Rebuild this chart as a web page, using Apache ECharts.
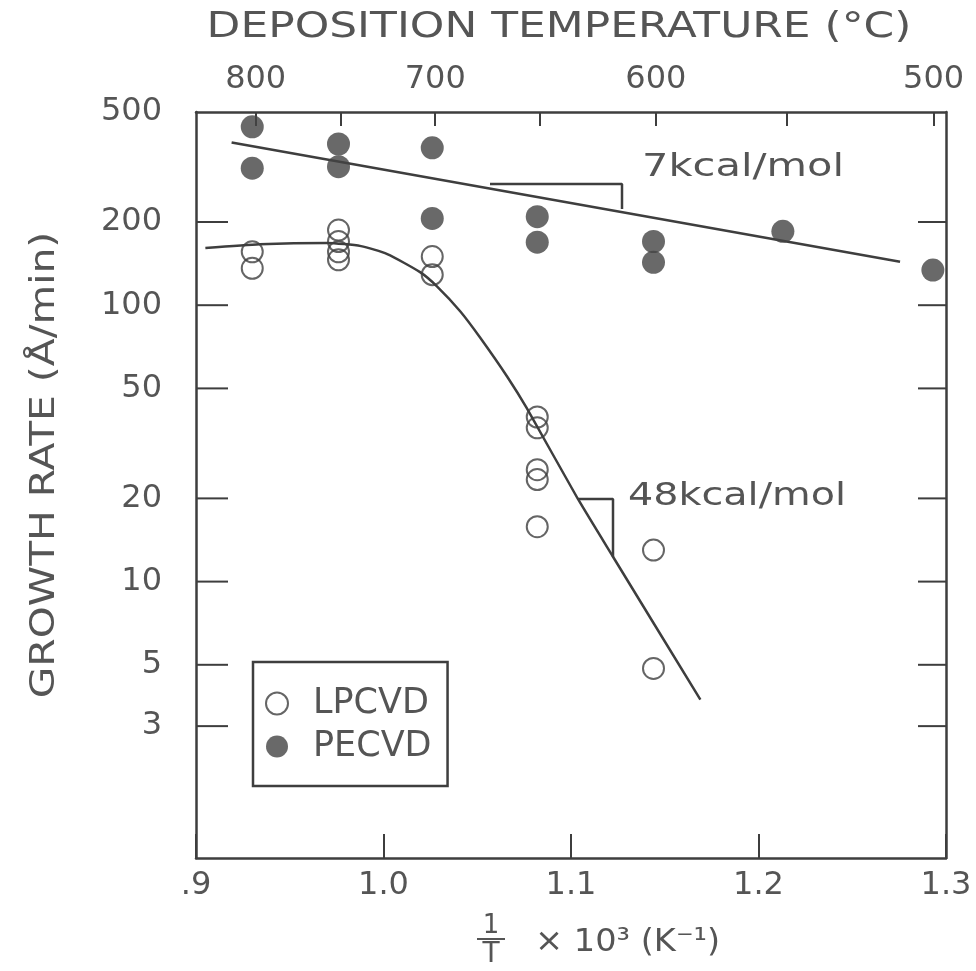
<!DOCTYPE html>
<html>
<head>
<meta charset="utf-8">
<script src="https://cdn.jsdelivr.net/npm/echarts@6/dist/echarts.min.js"></script>
<style>
  html, body { margin: 0; padding: 0; background: #ffffff; }
  #chart { width: 976px; height: 971px; }
</style>
</head>
<body>
<div id="chart"></div>
<script>
// Reciprocal temperature (1000/T, K^-1) and growth rate (Å/min)
const lpcvdX = [0.930, 0.930, 0.976, 0.976, 0.976, 0.976, 1.026, 1.026,
                1.082, 1.082, 1.082, 1.082, 1.082, 1.144, 1.144];
const lpcvdY = [156, 136, 187, 170, 156, 146, 150, 129,
                39.4, 36, 25.4, 23.4, 15.8, 13.0, 4.85];

const pecvdX = [0.930, 0.930, 0.976, 0.976, 1.026, 1.026, 1.082, 1.082,
                1.144, 1.144, 1.213, 1.293];
const pecvdY = [442, 313, 383, 317, 371, 206, 209, 169, 170, 143, 185, 134];

// Arrhenius fit for PECVD (7 kcal/mol)
const pecvdFitX = [0.919, 1.2755];
const pecvdFitY = [388, 143.5];

// Fit curve for LPCVD (saturating, then 48 kcal/mol)
const lpcvdFitX = [0.905, 0.934, 0.970, 0.988, 1.002, 1.0195, 1.0285, 1.041,
                   1.0515, 1.066, 1.0765, 1.1037, 1.1224, 1.169];
const lpcvdFitY = [161, 166, 168, 163.6, 153, 131.7, 117, 94.9,
                   76.4, 55.1, 42.3, 19.9, 12.3, 3.74];

// Slope triangles
const triPecvdX = [1.0568, 1.1272, 1.1272];
const triPecvdY = [274.4, 274.4, 222.7];
const triLpcvdX = [1.1037, 1.1224, 1.1224];
const triLpcvdY = [19.9, 19.9, 12.3];

// Axis ticks
const xMin = 0.9, xMax = 1.3, xStep = 0.1;
const yMin = 1, yMax = 500;
const yTicks = [500, 200, 100, 50, 20, 10, 5, 3];
const tempTicks = [800, 750, 700, 650, 600, 550, 500];     // °C
const tempLabels = [800, 700, 600, 500];                    // °C

const FONT = "'DejaVu Sans', 'Noto Sans', sans-serif";
const INK = '#555555';
const LINE = '#3e3e3e';

const invT = t => 1000 / (t + 273.15);
const pairs = (xs, ys) => xs.map((x, i) => [x, ys[i]]);

const chart = echarts.init(document.getElementById('chart'), null, { renderer: 'canvas' });

chart.setOption({
  animation: false,
  backgroundColor: '#ffffff',
  grid: { left: 196, right: 30, top: 112, bottom: 113, containLabel: false },
  legend: {
    data: ['LPCVD', 'PECVD'],
    left: 253, top: 662,
    orient: 'vertical',
    padding: [24, 16, 22, 12],
    itemGap: 8,
    itemWidth: 22, itemHeight: 22,
    borderColor: LINE, borderWidth: 2.5,
    textStyle: { fontFamily: FONT, fontSize: 35, color: INK, lineHeight: 30, padding: [0, 0, 0, 20] },
    selectedMode: false
  },
  xAxis: [
    {
      type: 'value', position: 'bottom', min: xMin, max: xMax, interval: xStep,
      axisLine: { show: true, lineStyle: { color: LINE, width: 2.5 } },
      axisTick: { show: true, inside: true, length: 24, lineStyle: { color: LINE, width: 2 } },
      axisLabel: {
        margin: 12, fontFamily: FONT, fontSize: 32, color: INK,
        formatter: v => (Math.abs(v - 0.9) < 1e-6 ? '.9' : Number(v).toFixed(1))
      },
      splitLine: { show: false }
    },
    {
      type: 'value', position: 'top', min: xMin, max: xMax,
      axisLine: { show: true, lineStyle: { color: LINE, width: 2.5 } },
      axisTick: { show: true, inside: true, length: 14, customValues: tempTicks.map(invT),
                  lineStyle: { color: LINE, width: 2 } },
      axisLabel: {
        margin: 16, fontFamily: FONT, fontSize: 32, color: INK,
        customValues: tempLabels.map(invT),
        formatter: v => String(Math.round((1000 / v - 273.15) / 10) * 10)
      },
      splitLine: { show: false }
    }
  ],
  yAxis: [
    {
      type: 'log', logBase: 10, min: yMin, max: yMax, position: 'left',
      axisLine: { show: true, lineStyle: { color: LINE, width: 2.5 } },
      axisTick: { show: false }, axisLabel: { show: false }, splitLine: { show: false }
    },
    {
      type: 'log', logBase: 10, min: yMin, max: yMax, position: 'right',
      axisLine: { show: true, lineStyle: { color: LINE, width: 2.5 } },
      axisTick: { show: false }, axisLabel: { show: false }, splitLine: { show: false }
    }
  ],
  series: [
    {
      // growth-rate ticks and labels on the log axis
      name: 'yTicks', type: 'custom', xAxisIndex: 0, yAxisIndex: 0, clip: false, silent: true,
      data: yTicks.map(v => [xMin, v]),
      renderItem: function (params, api) {
        const v = api.value(1);
        const l = api.coord([xMin, v]);
        const r = api.coord([xMax, v]);
        const children = [{
          type: 'text',
          style: { text: String(v), x: l[0] - 34, y: l[1], align: 'right', verticalAlign: 'middle',
                   fontFamily: FONT, fontSize: 32, fill: INK }
        }];
        if (v < yMax) {
          children.push(
            { type: 'line', shape: { x1: l[0], y1: l[1], x2: l[0] + 32, y2: l[1] },
              style: { stroke: LINE, lineWidth: 2 } },
            { type: 'line', shape: { x1: r[0] - 28, y1: r[1], x2: r[0], y2: r[1] },
              style: { stroke: LINE, lineWidth: 2 } }
          );
        }
        return { type: 'group', children: children };
      }
    },
    {
      name: 'PECVD fit', type: 'line', data: pairs(pecvdFitX, pecvdFitY),
      showSymbol: false, symbol: 'none', lineStyle: { color: LINE, width: 2.5 }, z: 2
    },
    {
      name: 'LPCVD fit', type: 'line', data: pairs(lpcvdFitX, lpcvdFitY), smooth: 0.2,
      showSymbol: false, symbol: 'none', lineStyle: { color: LINE, width: 2.5 }, z: 2
    },
    {
      name: 'PECVD slope', type: 'line', data: pairs(triPecvdX, triPecvdY),
      showSymbol: false, symbol: 'none', lineStyle: { color: LINE, width: 2.5 }, z: 2
    },
    {
      name: 'LPCVD slope', type: 'line', data: pairs(triLpcvdX, triLpcvdY),
      showSymbol: false, symbol: 'none', lineStyle: { color: LINE, width: 2.5 }, z: 2
    },
    {
      name: 'LPCVD', type: 'scatter', data: pairs(lpcvdX, lpcvdY), symbol: 'circle', symbolSize: 21,
      itemStyle: { color: 'rgba(255,255,255,0)', borderColor: LINE, borderWidth: 2 }, z: 3
    },
    {
      name: 'PECVD', type: 'scatter', data: pairs(pecvdX, pecvdY), symbol: 'circle', symbolSize: 23,
      itemStyle: { color: '#444444', borderColor: '#444444', borderWidth: 0 }, z: 3
    }
  ],
  graphic: [
    {
      type: 'text', x: 559, y: 28, scaleX: 1.22,
      style: { text: 'DEPOSITION TEMPERATURE (°C)', align: 'center', verticalAlign: 'middle',
               fontFamily: FONT, fontSize: 36, fill: INK }
    },
    {
      type: 'text', x: 45, y: 465, rotation: Math.PI / 2, scaleX: 1.2,
      style: { text: 'GROWTH RATE (Å/min)', align: 'center', verticalAlign: 'middle',
               fontFamily: FONT, fontSize: 34, fill: INK }
    },
    {
      type: 'text', x: 642, y: 168, scaleX: 1.3,
      style: { text: '7kcal/mol', align: 'left', verticalAlign: 'middle',
               fontFamily: FONT, fontSize: 32, fill: INK }
    },
    {
      type: 'text', x: 628, y: 497, scaleX: 1.24,
      style: { text: '48kcal/mol', align: 'left', verticalAlign: 'middle',
               fontFamily: FONT, fontSize: 32, fill: INK }
    },
    {
      type: 'group', x: 491, y: 939,
      children: [
        { type: 'text', style: { text: '1', x: 0, y: -13, align: 'center', verticalAlign: 'middle',
                                 fontFamily: FONT, fontSize: 26, fill: INK } },
        { type: 'line', shape: { x1: -14, y1: 0, x2: 14, y2: 0 }, style: { stroke: INK, lineWidth: 2 } },
        { type: 'text', style: { text: 'T', x: 0, y: 16, align: 'center', verticalAlign: 'middle',
                                 fontFamily: FONT, fontSize: 28, fill: INK } }
      ]
    },
    {
      type: 'text', x: 535, y: 943, scaleX: 1.05,
      style: { text: '× 10³ (K⁻¹)', align: 'left', verticalAlign: 'middle',
               fontFamily: FONT, fontSize: 32, fill: INK }
    }
  ]
});
</script>
</body>
</html>
